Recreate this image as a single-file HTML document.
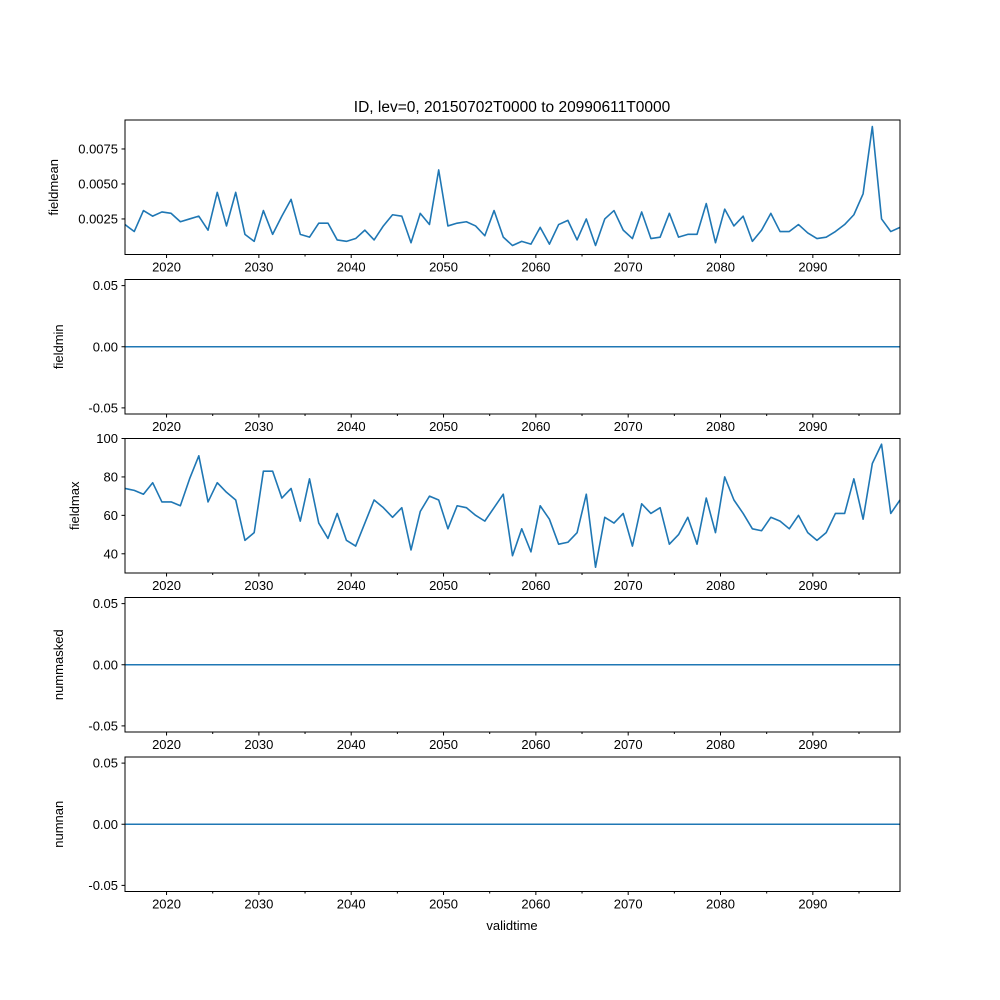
<!DOCTYPE html>
<html><head><meta charset="utf-8"><style>body{margin:0;background:#fff}svg{display:block}text{font-family:"Liberation Sans","DejaVu Sans",sans-serif;fill:#000}</style></head>
<body>
<svg id="c" width="1000" height="1000" xmlns="http://www.w3.org/2000/svg">
<text x="512" y="112" font-size="15.5" text-anchor="middle">ID, lev=0, 20150702T0000 to 20990611T0000</text>
<text x="512" y="930" font-size="13" text-anchor="middle">validtime</text>
</svg>
<script>
const fieldmeanValues=[0.0021,0.0016,0.0031,0.0027,0.0030,0.0029,0.0023,0.0025,0.0027,0.0017,0.0044,0.0020,0.0044,0.0014,0.0009,0.0031,0.0014,0.0027,0.0039,0.0014,0.0012,0.0022,0.0022,0.0010,0.0009,0.0011,0.0017,0.0010,0.0020,0.0028,0.0027,0.0008,0.0029,0.0021,0.0060,0.0020,0.0022,0.0023,0.0020,0.0013,0.0031,0.0012,0.0006,0.0009,0.0007,0.0019,0.0007,0.0021,0.0024,0.0010,0.0025,0.0006,0.0025,0.0031,0.0017,0.0011,0.0030,0.0011,0.0012,0.0029,0.0012,0.0014,0.0014,0.0036,0.0008,0.0032,0.0020,0.0027,0.0009,0.0017,0.0029,0.0016,0.0016,0.0021,0.0015,0.0011,0.0012,0.0016,0.0021,0.0028,0.0043,0.0091,0.0025,0.0016,0.0019];
const fieldmaxValues=[74,73,71,77,67,67,65,79,91,67,77,72,68,47,51,83,83,69,74,57,79,56,48,61,47,44,56,68,64,59,64,42,62,70,68,53,65,64,60,57,64,71,39,53,41,65,58,45,46,51,71,33,59,56,61,44,66,61,64,45,50,59,45,69,51,80,68,61,53,52,59,57,53,60,51,47,51,61,61,79,58,87,97,61,68];
const xTickLabels=[2020,2030,2040,2050,2060,2070,2080,2090];
const meanTicks=[0.0025,0.0050,0.0075];
const maxTicks=[40,60,80,100];
const zeroTicks=[-0.05,0.00,0.05];
const panelNames=["fieldmean","fieldmin","fieldmax","nummasked","numnan"];

const svg=document.getElementById('c');
const NS='http://www.w3.org/2000/svg';
const L=125,R=900,T0=2015.5,T1=2099.44;
const tops=[120,279.5,438.5,597.5,757],H=134.5;
function X(t){return L+(t-T0)/(T1-T0)*(R-L);}
function mk(tag,attrs,parent){const e=document.createElementNS(NS,tag);for(const k in attrs)e.setAttribute(k,attrs[k]);(parent||svg).appendChild(e);return e;}
function yearOf(i,n){return T0+i*(T1-T0)/(n-1);}
const cfg=[
 {vals:fieldmeanValues,lo:-0.00004,hi:0.00957,ticks:meanTicks,fmt:v=>v.toFixed(4),lx:58},
 {vals:null,lo:-0.055,hi:0.055,ticks:zeroTicks,fmt:v=>v.toFixed(2),lx:63},
 {vals:fieldmaxValues,lo:30,hi:100,ticks:maxTicks,fmt:v=>String(v),lx:79},
 {vals:null,lo:-0.055,hi:0.055,ticks:zeroTicks,fmt:v=>v.toFixed(2),lx:63},
 {vals:null,lo:-0.055,hi:0.055,ticks:zeroTicks,fmt:v=>v.toFixed(2),lx:63}];
cfg.forEach((c,p)=>{
 const top=tops[p],bot=top+H;
 const Y=v=>bot-(v-c.lo)/(c.hi-c.lo)*H;
 const g=mk('g',{});
 
 
 let d='';
 if(c.vals){c.vals.forEach((v,i)=>{d+=(i?'L':'M')+X(yearOf(i,c.vals.length)).toFixed(2)+','+Y(v).toFixed(2);});}
 else{d='M'+L+','+Y(0)+'L'+R+','+Y(0);}
 const line=mk('path',{d:d,fill:'none',stroke:'#1f77b4','stroke-width':1.6,'stroke-linejoin':'round'},g);
 
 
 const fr=mk('rect',{x:L,y:top,width:R-L,height:H,fill:'none',stroke:'#000','stroke-width':1},g);
 
 
 c.ticks.forEach(v=>{
  const y=Y(v);
  mk('line',{x1:L-3.5,x2:L,y1:y,y2:y,stroke:'#000'},g);
  const t=mk('text',{x:L-7,y:y+4.5,'font-size':13,'text-anchor':'end'},g);
  t.textContent=c.fmt(v);
  
  
 });
 for(let yr=2015;yr<=2095;yr+=10){if(X(yr)>=L){mk('line',{x1:X(yr),x2:X(yr),y1:bot,y2:bot+2,stroke:'#000'},g);}}
 xTickLabels.forEach(yr=>{
  const x=X(yr);
  mk('line',{x1:x,x2:x,y1:bot,y2:bot+3.5,stroke:'#000'},g);
  const t=mk('text',{x:x,y:bot+17,'font-size':13,'text-anchor':'middle'},g);
  t.textContent=yr;
  
  
 });
 const yt=mk('text',{x:c.lx,y:top+H/2,'font-size':13,'text-anchor':'middle',transform:`rotate(-90 ${c.lx} ${top+H/2})`},g);
 yt.textContent=panelNames[p];
 
 
});
</script>
</body></html>
